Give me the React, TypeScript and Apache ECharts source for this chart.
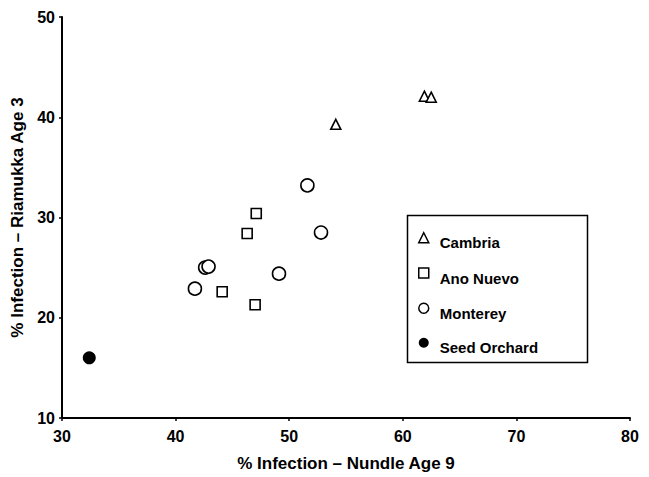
import React, { useEffect, useRef } from "react";
import * as echarts from "echarts";

const xTicks = [30, 40, 50, 60, 70, 80];
const yTicks = [10, 20, 30, 40, 50];

const cambria = [
  [54.1, 39.3],
  [61.9, 42.1],
  [62.5, 42.0],
];
const anoNuevo = [
  [47.1, 30.4],
  [46.3, 28.4],
  [44.1, 22.6],
  [47.0, 21.3],
];
const monterey = [
  [51.6, 33.2],
  [52.8, 28.5],
  [49.1, 24.4],
  [41.7, 22.9],
  [42.6, 25.0],
  [42.9, 25.1],
];
const seedOrchard = [[32.4, 16.0]];

const xTitle = "% Infection – Nundle Age 9";
const yTitle = "% Infection – Riamukka Age 3";

const FONT = "'Liberation Sans', Arial, Helvetica, sans-serif";

export default function App() {
  const ref = useRef<HTMLDivElement>(null);
  useEffect(() => {
    if (!ref.current) return;
    const chart = echarts.init(ref.current, undefined, { renderer: "svg" });
    const hollow = { color: "#fff", borderColor: "#000", borderWidth: 1.6, opacity: 1 };
    const axisCommon = {
      type: "value" as const,
      interval: 10,
      splitLine: { show: false },
      axisLine: { show: true, lineStyle: { color: "#000", width: 2 } },
      axisTick: { show: true, inside: false, length: 3, lineStyle: { color: "#000", width: 1.5 } },
      axisLabel: { color: "#000", fontSize: 16, fontWeight: "bold", fontFamily: FONT },
      nameLocation: "middle" as const,
      nameTextStyle: { color: "#000", fontSize: 17, fontWeight: "bold", fontFamily: FONT },
    };
    chart.setOption({
      animation: false,
      backgroundColor: "#fff",
      textStyle: { fontFamily: FONT },
      grid: { left: 62, right: 19, top: 17, bottom: 58, containLabel: false },
      xAxis: {
        ...axisCommon,
        min: xTicks[0],
        max: xTicks[xTicks.length - 1],
        name: xTitle,
        nameGap: 37,
        axisLabel: { ...axisCommon.axisLabel, margin: 10 },
      },
      yAxis: {
        ...axisCommon,
        min: yTicks[0],
        max: yTicks[yTicks.length - 1],
        name: yTitle,
        nameGap: 30,
        axisLabel: { ...axisCommon.axisLabel, margin: 7 },
      },
      legend: {
        orient: "vertical",
        left: 413,
        top: 227,
        itemWidth: 10,
        itemHeight: 10,
        itemGap: 17,
        formatter: "{t|{name}}",
        textStyle: {
          color: "#000",
          fontSize: 15,
          fontWeight: "bold",
          fontFamily: FONT,
          rich: {
            t: { color: "#000", fontSize: 15, fontWeight: "bold", fontFamily: FONT, padding: [10, 0, 0, 6] },
          },
        },
        data: [
          { name: "Cambria", itemStyle: { borderWidth: 1.5 } },
          { name: "Ano Nuevo", itemStyle: { borderWidth: 1.5 } },
          { name: "Monterey", itemStyle: { borderWidth: 1.5 } },
          { name: "Seed Orchard" },
        ],
      },
      graphic: [
        {
          type: "rect",
          left: 405,
          top: 213,
          shape: { width: 180, height: 147 },
          style: { fill: "none", stroke: "#000", lineWidth: 1.5 },
          silent: true,
        },
      ],
      series: [
        { name: "Cambria", type: "scatter", symbol: "triangle", symbolSize: 10, data: cambria, itemStyle: hollow },
        { name: "Ano Nuevo", type: "scatter", symbol: "rect", symbolSize: 10, data: anoNuevo, itemStyle: hollow },
        { name: "Monterey", type: "scatter", symbol: "circle", symbolSize: 13, data: monterey, itemStyle: hollow },
        { name: "Seed Orchard", type: "scatter", symbol: "circle", symbolSize: 13, data: seedOrchard, itemStyle: { color: "#000", opacity: 1 } },
      ],
    });
    return () => chart.dispose();
  }, []);
  return <div ref={ref} style={{ width: 649, height: 477, position: "absolute", left: 0, top: 0 }} />;
}
